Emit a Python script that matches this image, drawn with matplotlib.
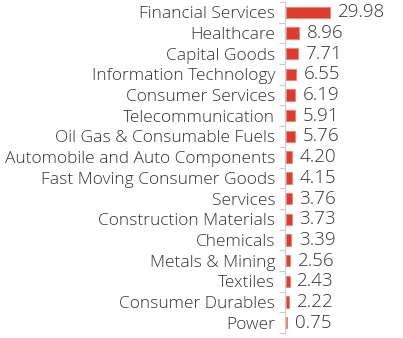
import matplotlib.pyplot as plt
import numpy as np

sectors = [
    "Financial Services", "Healthcare", "Capital Goods", "Information Technology",
    "Consumer Services", "Telecommunication", "Oil Gas & Consumable Fuels",
    "Automobile and Auto Components", "Fast Moving Consumer Goods", "Services",
    "Construction Materials", "Chemicals", "Metals & Mining", "Textiles",
    "Consumer Durables", "Power",
]
weights = [29.98, 8.96, 7.71, 6.55, 6.19, 5.91, 5.76, 4.20, 4.15, 3.76,
           3.73, 3.39, 2.56, 2.43, 2.22, 0.75]

plt.rcParams['font.family'] = ['Open Sans', 'DejaVu Sans']
plt.rcParams['font.weight'] = 'light'

fig = plt.figure(figsize=(4.03, 3.38), dpi=100)
ax = fig.add_axes([285 / 403, 5 / 338, 118 / 403, 331 / 338])

y = np.arange(len(sectors))
ax.barh(y, weights, height=0.55, left=0.8, color='#dc3b2e', edgecolor='#ec8478', linewidth=0.8)
for yi, w in zip(y, weights):
    ax.annotate(f"{w:.2f}", (w + 0.8, yi), xytext=(5.5, 0), textcoords='offset points',
                va='center', ha='left', fontsize=13.5, color='#333333')

ax.set_xlim(0, 80)
ax.set_ylim(len(sectors) - 0.5, -0.5)
ax.set_yticks(y)
ax.set_yticklabels(sectors, fontsize=12.5, color='#333333')
ax.set_yticks(np.arange(len(sectors) + 1) - 0.5, minor=True)
ax.tick_params(axis='y', which='major', length=0, pad=7)
ax.tick_params(axis='y', which='minor', length=4, color='#cccccc', width=0.8)
ax.set_xticks([])
for s in ['top', 'right', 'bottom']:
    ax.spines[s].set_visible(False)
ax.spines['left'].set_color('#cccccc')
ax.spines['left'].set_linewidth(0.8)

fig.savefig('out.png', dpi=100)
